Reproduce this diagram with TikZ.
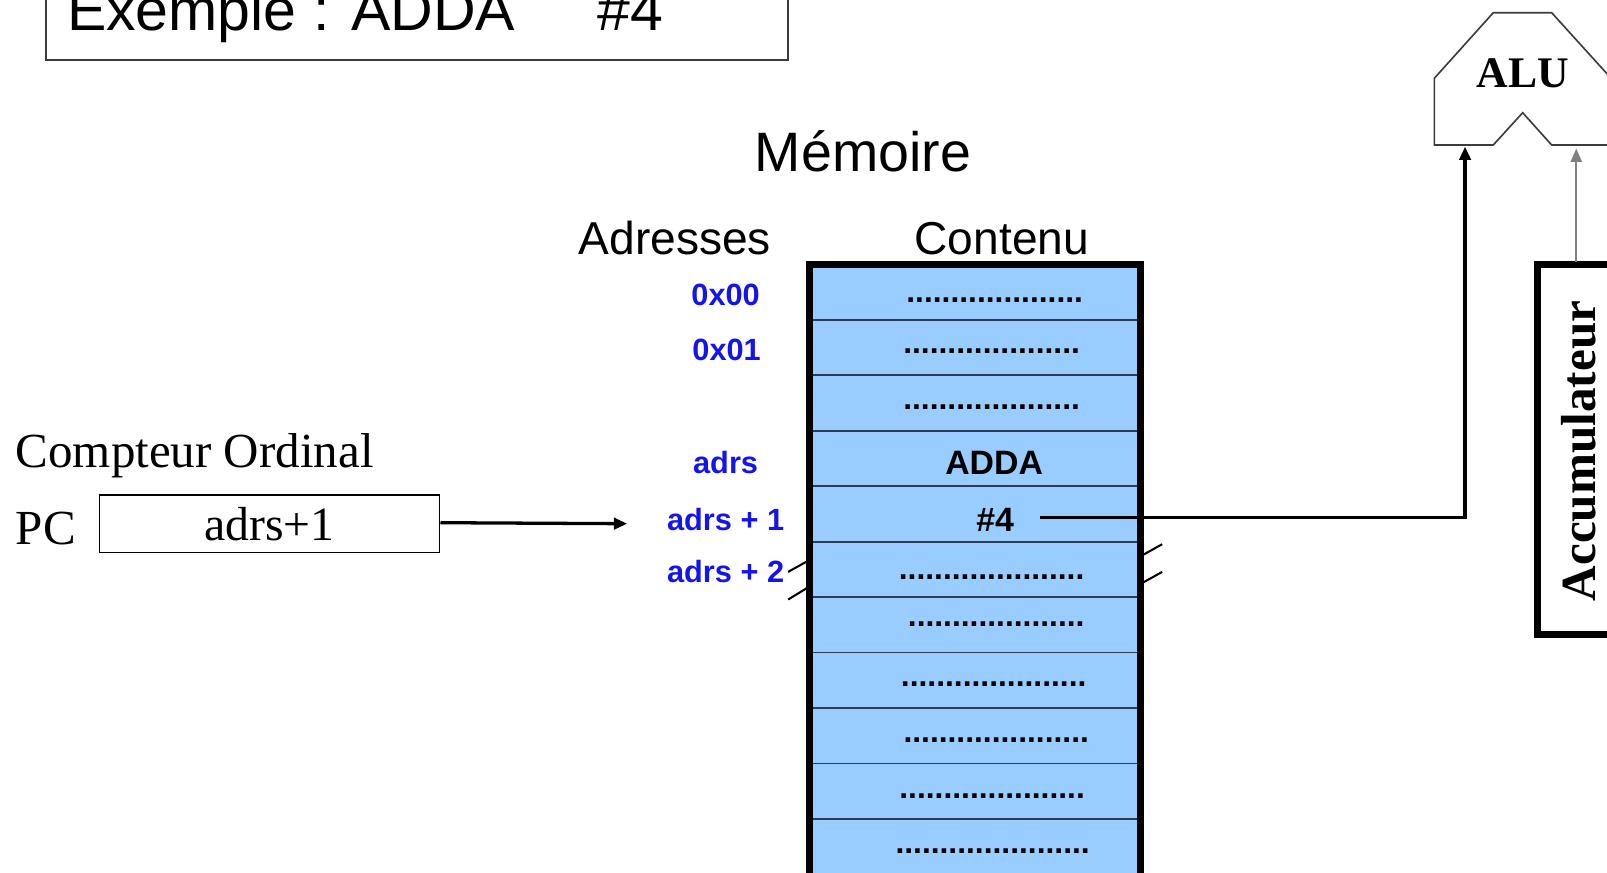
\documentclass[tikz,border=0pt]{standalone}
\usepackage{fontspec}
\setmainfont{Liberation Serif}
\newfontfamily\arialf{Liberation Sans}
\usetikzlibrary{arrows.meta}
\definecolor{memfill}{RGB}{153,204,255}
\definecolor{sepcol}{RGB}{45,60,80}
\definecolor{adrblue}{RGB}{20,20,240}
\definecolor{boxgray}{RGB}{60,60,60}
\begin{document}
\begin{tikzpicture}[x=0.5pt,y=-0.5pt,
  cell/.style={draw=sepcol,line width=0.9pt,fill=memfill,minimum width=161.5pt,minimum height=27.05pt,inner sep=0pt,outer sep=0pt},
  dots/.style={anchor=base,inner sep=0pt,font=\arialf\bfseries\fontsize{15.5}{16}\selectfont},
  celltxt/.style={inner sep=0pt,font=\arialf\bfseries\fontsize{16.5}{18}\selectfont},
  adr/.style={inner sep=0pt,text=adrblue,font=\arialf\bfseries\fontsize{15}{16}\selectfont},
  head/.style={anchor=base,inner sep=0pt,font=\arialf\fontsize{22.5}{24}\selectfont},
  serif/.style={inner sep=0pt,font=\fontsize{23.9}{25}\selectfont},
  arr/.style={-{Triangle[length=6.5pt,width=5.5pt]}},
  brk/.style={line width=1pt,black}
]
\useasboundingbox (0,0) rectangle (1568,851);
\clip (0,0) rectangle (1568,851);

% title box
\draw[boxgray,line width=1pt] (45,-30) rectangle (769,59);
\node[anchor=base west,inner sep=0pt,font=\arialf\fontsize{28.8}{30}\selectfont] (title) at (65,30) {Exemple : ADDA};
\node[anchor=base west,inner sep=0pt,font=\arialf\fontsize{28.8}{30}\selectfont] (titlenum) at (583,30) {\#4};

% headings
\node[anchor=base,inner sep=0pt,font=\arialf\fontsize{27.1}{28}\selectfont] (mem) at (842,167) {Mémoire};
\node[head] (adresses) at (658.5,248) {Adresses};
\node[head] (contenu) at (977.5,248) {Contenu};

% memory cells
\foreach \k in {0,...,10}{
  \node[cell] (c\k) at (951.5,{285.05+54.1*\k}) {};
}
% thick border
\draw[line width=3.5pt,line join=miter] (790,880) -- (790,258) -- (1113,258) -- (1113,880);

% cell contents
\node[dots] (d0) at (970.5,295) {....................};
\node[dots] (d1) at (967.5,345) {....................};
\node[dots] (d2) at (967.5,400) {....................};
\node[celltxt] (adda) at (970,452) {ADDA};
\node[celltxt] (n4) at (971,507) {\#4};
\node[dots] (d5) at (967.5,565) {.....................};
\node[dots] (d6) at (972,611) {....................};
\node[dots] (d7) at (969.5,670) {.....................};
\node[dots] (d8) at (972,724) {.....................};
\node[dots] (d9) at (968,779) {.....................};
\node[dots] (d10) at (968.5,833) {......................};

% addresses
\node[adr] (a0) at (708,288) {0x00};
\node[adr] (a1) at (709,341) {0x01};
\node[adr] (a3) at (708,451) {adrs};
\node[adr] (a4) at (708,507) {adrs + 1};
\node[adr] (a5) at (708,558) {adrs + 2};

% break marks
\draw[brk] (769,558) -- (787,548);
\draw[brk] (769,585) -- (787,574);
\draw[brk] (1116,541) -- (1134,531);
\draw[brk] (1116,568) -- (1134,558);

% PC
\node[serif,anchor=base west] (co) at (15,456) {Compteur Ordinal};
\node[serif,anchor=base west] (pclbl) at (15,531) {PC};
\node[draw=black,line width=0.8pt,minimum width=166pt,minimum height=28pt,inner sep=0pt,font=\fontsize{23.3}{25}\selectfont] (pc) at (263,511) {adrs+1};
\coordinate (pctip) at (612,511);
\draw[arr,line width=1.6pt] (pc.east |- 0,510) -- (pctip);

% ALU
\draw[boxgray,line width=0.8pt,line join=miter]
  (1399.5,141.5) -- (1399.5,76.4) -- (1457,12.4) -- (1514,12.4) -- (1572,76.4) -- (1572,141.5)
  -- (1514,141.5) -- (1485.7,110) -- (1457,141.5) -- cycle;
\node[inner sep=0pt,font=\bfseries\fontsize{21.3}{22}\selectfont] (alu) at (1485.7,71.5) {ALU};
\coordinate (aluA) at (1429.5,143);
\coordinate (aluB) at (1538,145);

% #4 to ALU
\coordinate (hs) at (1015,505);
\draw[arr,line width=1.6pt] (hs) -| (aluA);

% Accumulateur
\draw[line width=3.25pt,line join=miter] (1500,258) rectangle (1640,619);
\node[rotate=90,inner sep=0pt,font=\bfseries\fontsize{24}{25}\selectfont] (acc) at (1540,440) {Accumulateur};
\coordinate (acctop) at (1538,256);
\draw[arr,line width=0.8pt,draw=gray] (acctop) -- (aluB);
\end{tikzpicture}
\end{document}
